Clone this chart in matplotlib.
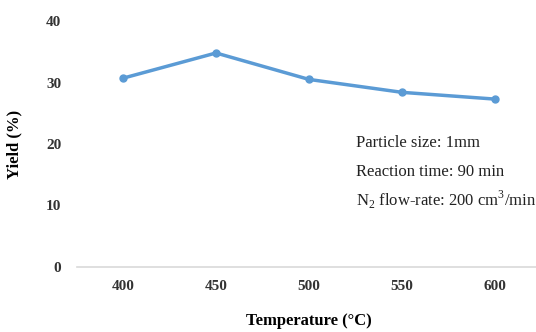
import matplotlib.pyplot as plt

temperature = ['400', '450', '500', '550', '600']
yield_pct = [30.7, 34.8, 30.5, 28.4, 27.3]
y_ticks = [0, 10, 20, 30, 40]
notes = ['Particle size: 1mm', 'Reaction time: 90 min',
         r'N$_2$ flow-rate: 200 cm$^3$/min']

plt.rcParams['font.family'] = ['Liberation Serif', 'DejaVu Serif']
plt.rcParams['mathtext.fontset'] = 'custom'
plt.rcParams['mathtext.rm'] = 'Liberation Serif'

fig = plt.figure(figsize=(5.36, 3.32), dpi=100)
ax = fig.add_axes([76.5 / 536, 65 / 332, 465 / 536, 246 / 332])

x = range(len(temperature))
ax.plot(x, yield_pct, color='#5B9BD5', lw=2.5, marker='o', ms=5)

ax.set_xlim(-0.5, len(temperature) - 0.5)
ax.set_ylim(0, 40)
ax.set_xticks(list(x))
ax.set_xticklabels(temperature)
ax.set_yticks(y_ticks)
for lab in ax.get_xticklabels() + ax.get_yticklabels():
    lab.set_fontweight('bold')
    lab.set_fontsize(11)
ax.tick_params(length=0, pad=9, colors='#333333')
ax.tick_params(axis='y', pad=11)

for s in ['top', 'right', 'left']:
    ax.spines[s].set_visible(False)
ax.spines['bottom'].set_color('#D9D9D9')
ax.spines['bottom'].set_linewidth(1.2)

ax.set_xlabel('Temperature (°C)', fontsize=12, fontweight='bold', labelpad=15)
ax.set_ylabel('Yield (%)', fontsize=12, fontweight='bold', labelpad=17)

for i, t in enumerate(notes):
    fig.text(356 / 536, 1 - (143 + 28.5 * i) / 332, t, fontsize=12,
             va='center', ha='left', color='#222222')

fig.savefig('out.png', dpi=100)
plt.close(fig)
